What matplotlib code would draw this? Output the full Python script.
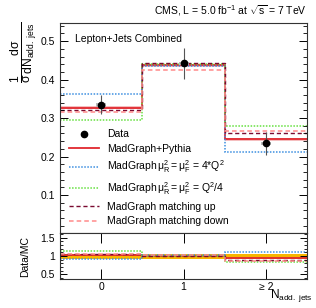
import numpy as np
import matplotlib
matplotlib.use("Agg")
import matplotlib.pyplot as plt
from matplotlib.ticker import MultipleLocator, FixedLocator

plt.rcParams['font.family'] = ['Liberation Sans', 'DejaVu Sans']
plt.rcParams['mathtext.fontset'] = 'custom'
plt.rcParams['mathtext.rm'] = 'Liberation Sans'
plt.rcParams['mathtext.it'] = 'Liberation Sans'
plt.rcParams['mathtext.sf'] = 'Liberation Sans'

# Datos
edges = np.array([-0.5, 0.5, 1.5, 2.5])
centros = np.array([0, 1, 2])
etiquetas_x = ['0', '1', '≥ 2']

datos = np.array([0.335, 0.442, 0.234])
datos_err = np.array([0.024, 0.040, 0.030])
datos_stat = np.array([0.005, 0.005, 0.005])

nominal = np.array([0.327, 0.437, 0.245])
nominal_band = np.array([0.004, 0.004, 0.004])
escala_arriba = np.array([0.362, 0.435, 0.212])   # 4*Q^2
escala_abajo = np.array([0.295, 0.440, 0.279])    # Q^2/4
matching_up = np.array([0.321, 0.443, 0.262])
matching_down = np.array([0.317, 0.425, 0.267])

banda_ratio = np.array([0.07, 0.07, 0.07])

fig = plt.figure(figsize=(3.16, 3.08), dpi=100)
ax = fig.add_axes([0.19, 0.242, 0.782, 0.683])
axr = fig.add_axes([0.19, 0.094, 0.782, 0.148])

c_rojo = '#e0282e'
c_azul = '#3d8fe0'
c_verde = '#66e040'
c_granate = '#7a0a30'
c_rosa = '#ff8a8a'

# banda de la curva nominal
for i in range(3):
    ax.fill_between([edges[i], edges[i+1]], nominal[i]-nominal_band[i], nominal[i]+nominal_band[i],
                    color=c_rojo, alpha=0.3, lw=0)
ax.stairs(nominal, edges, baseline=None, color=c_rojo, lw=1.3, label='MadGraph+Pythia')
ax.stairs(escala_arriba, edges, baseline=None, color=c_azul, lw=1.1, ls=(0, (1, 1)),
          label=r'MadGraph$\,\mu_R^2 = \mu_F^2$ = 4*Q$^2$')
ax.stairs(escala_abajo, edges, baseline=None, color=c_verde, lw=1.1, ls=(0, (1, 1)),
          label=r'MadGraph$\,\mu_R^2 = \mu_F^2$ = Q$^2$/4')
ax.stairs(matching_up, edges, baseline=None, color=c_granate, lw=1.0, ls=(0, (3, 2)),
          label='MadGraph matching up')
ax.stairs(matching_down, edges, baseline=None, color=c_rosa, lw=1.1, ls=(0, (3, 2)),
          label='MadGraph matching down')

# datos
for i in range(3):
    ax.fill_between([centros[i]-0.06, centros[i]+0.06], datos[i]-datos_stat[i], datos[i]+datos_stat[i],
                    color='#bbbbbb', lw=0, zorder=4)
ax.errorbar(centros, datos, yerr=datos_err, fmt='o', color='black', ecolor='#555555',
            elinewidth=0.8, markersize=4.5, zorder=5)
ax.plot([], [], 'ko', markersize=4.5, label='Data')

ax.set_xlim(-0.5, 2.5)
ax.set_ylim(0, 0.547)
ax.yaxis.set_major_locator(MultipleLocator(0.1))
ax.yaxis.set_minor_locator(MultipleLocator(0.02))
ax.xaxis.set_major_locator(FixedLocator(centros))
ax.tick_params(which='both', direction='in', top=True, right=True, labelbottom=False, labelsize=7.5)
ax.tick_params(which='major', length=6, width=0.7)
ax.tick_params(which='minor', length=3, width=0.6)
ax.tick_params(axis='x', length=0)
ax.set_yticks([0.0, 0.1, 0.2, 0.3, 0.4, 0.5])
ax.set_yticklabels(['', '0.1', '0.2', '0.3', '0.4', '0.5'])

h, l = ax.get_legend_handles_labels()
orden = [5, 0, 1, 2, 3, 4]
ax.legend([h[i] for i in orden], [l[i] for i in orden], loc='lower left', bbox_to_anchor=(0.0, -0.01),
          frameon=False, fontsize=7.5, handlelength=2.8, handletextpad=0.8, labelspacing=0.45)

ax.text(0.06, 0.91, 'Lepton+Jets Combined', transform=ax.transAxes, fontsize=7.5)
fig.text(0.972, 0.94, r'CMS, L = 5.0 fb$^{-1}$ at $\sqrt{\rm s}$ = 7 TeV', ha='right', va='bottom', fontsize=7.5)
fig.text(0.075, 0.93, r'$\frac{1}{\sigma}\frac{d\sigma}{dN_{\rm add.\ jets}}$', rotation=90,
         ha='center', va='top', fontsize=12.5)

# panel de cociente
for i in range(3):
    axr.fill_between([edges[i], edges[i+1]], 1-banda_ratio[i], 1+banda_ratio[i], color='#f7b500', lw=0)
axr.stairs(datos/nominal, edges, baseline=None, color=c_rojo, lw=1.3)
axr.stairs(datos/escala_arriba, edges, baseline=None, color=c_azul, lw=1.1, ls=(0, (1, 1)))
axr.stairs(datos/escala_abajo, edges, baseline=None, color=c_verde, lw=1.1, ls=(0, (1, 1)))
axr.stairs(datos/matching_up, edges, baseline=None, color=c_granate, lw=1.0, ls=(0, (3, 2)))
axr.stairs(datos/matching_down, edges, baseline=None, color=c_rosa, lw=1.1, ls=(0, (3, 2)))

axr.set_xlim(-0.5, 2.5)
axr.set_ylim(0.37, 1.62)
axr.set_yticks([0.5, 1.0, 1.5])
axr.set_yticklabels(['0.5', '1', '1.5'])
axr.yaxis.set_minor_locator(MultipleLocator(0.1))
axr.set_xticks(centros)
axr.set_xticklabels(etiquetas_x)
axr.tick_params(which='both', direction='in', top=True, right=True, labelsize=7.5)
axr.tick_params(which='major', length=5, width=0.7)
axr.tick_params(which='minor', length=2.5, width=0.6)
axr.tick_params(axis='x', length=7, pad=2)
axr.set_ylabel('Data/MC', fontsize=7.5, labelpad=4)
axr.yaxis.set_label_coords(-0.12, 0.5)
fig.text(0.99, 0.012, r'N$_{\rm add.\ jets}$', ha='right', va='bottom', fontsize=8.5)

for a in (ax, axr):
    for s in a.spines.values():
        s.set_linewidth(0.8)
        s.set_color('#333333')

fig.savefig('out.png', dpi=100)
